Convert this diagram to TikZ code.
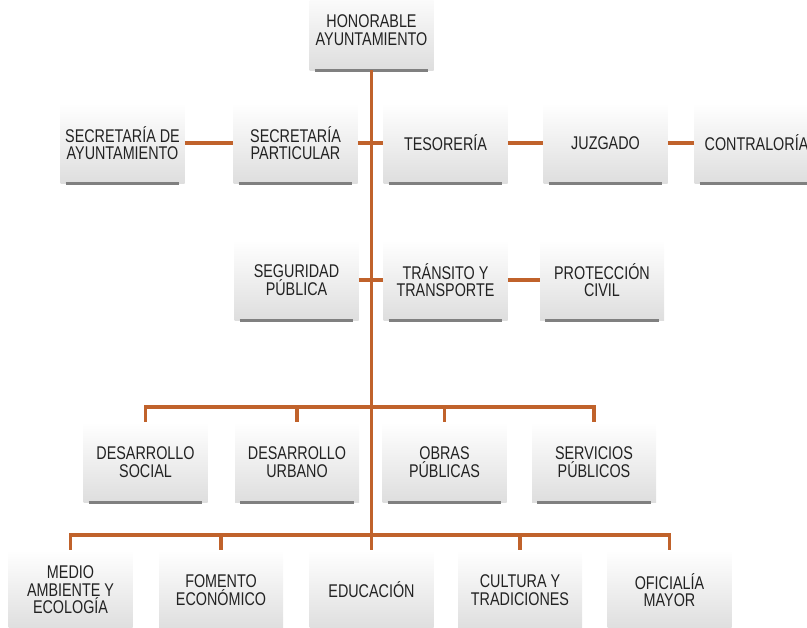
\documentclass[tikz,border=0pt]{standalone}
\usepackage{fontspec}
\setmainfont{Liberation Sans}[FakeStretch=0.78]
\definecolor{conn}{HTML}{C0622B}
\definecolor{shadowgray}{HTML}{808080}
\definecolor{txt}{HTML}{222222}
\begin{document}
\begin{tikzpicture}[x=0.75pt,y=-0.75pt,
  box/.style={minimum width=93pt, minimum height=60pt, inner sep=0pt, align=center,
    top color=white, middle color=gray!6, bottom color=gray!26,
    font=\fontsize{13.8}{13.2}\selectfont, text=txt},
  link/.style={draw=conn, line width=2.4pt},
  shadowl/.style={draw=shadowgray, line width=2pt}]
\useasboundingbox (0,0) rectangle (807,628);
% row 0
\node[box] (hon) at (371.5,30) {HONORABLE\\AYUNTAMIENTO};
% row 1
\node[box] (secay) at (122.5,143) {SECRETARÍA DE\\AYUNTAMIENTO};
\node[box] (secpa) at (295.5,143) {SECRETARÍA\\PARTICULAR};
\node[box] (teso) at (445.5,143) {TESORERÍA};
\node[box] (juz) at (605.5,143) {JUZGADO};
\node[box] (contra) at (756.5,143) {CONTRALORÍA};
% row 2
\node[box] (segu) at (296.5,280) {SEGURIDAD\\PÚBLICA};
\node[box] (tran) at (445.5,280) {TRÁNSITO Y\\TRANSPORTE};
\node[box] (prot) at (602,280) {PROTECCIÓN\\CIVIL};
% row 3
\node[box] (dsoc) at (145.5,462) {DESARROLLO\\SOCIAL};
\node[box] (durb) at (297,462) {DESARROLLO\\URBANO};
\node[box] (obra) at (444.5,462) {OBRAS\\PÚBLICAS};
\node[box] (serv) at (594,462) {SERVICIOS\\PÚBLICOS};
% row 4
\node[box] (medio) at (70.5,590) {MEDIO\\AMBIENTE  Y\\ECOLOGÍA};
\node[box] (fome) at (221,590) {FOMENTO\\ECONÓMICO};
\node[box] (educ) at (371.5,590) {EDUCACIÓN};
\node[box] (cult) at (520,590) {CULTURA Y\\TRADICIONES};
\node[box] (ofic) at (669.5,590) {OFICIALÍA\\MAYOR};
% shadows
\foreach \n in {hon,secay,secpa,teso,juz,contra,segu,tran,prot,dsoc,durb,obra,serv,medio,fome,educ,cult,ofic}
  \draw[shadowl] ([xshift=4pt]\n.south west) -- ([xshift=-4pt]\n.south east);
% bus coordinates
\coordinate (b3) at (371.5,407);
\coordinate (b4) at (371.5,535);
% trunk
\draw[link] (hon.south) -- (b4);
% row 1 links
\draw[link] (secay.east) -- (secpa.west);
\draw[link] (secpa.east) -- (teso.west);
\draw[link] (teso.east) -- (juz.west);
\draw[link] (juz.east) -- (contra.west);
% row 2 links
\draw[link] (segu.east) -- (tran.west);
\draw[link] (tran.east) -- (prot.west);
% row 3 bus
\draw[link] (dsoc.north) |- (b3) -| (serv.north);
\draw[link] (durb.north) -- (durb.north |- b3);
\draw[link] (obra.north) -- (obra.north |- b3);
% row 4 bus
\draw[link] (medio.north) |- (b4) -| (ofic.north);
\draw[link] (fome.north) -- (fome.north |- b4);
\draw[link] (educ.north) -- (b4);
\draw[link] (cult.north) -- (cult.north |- b4);
\end{tikzpicture}
\end{document}
